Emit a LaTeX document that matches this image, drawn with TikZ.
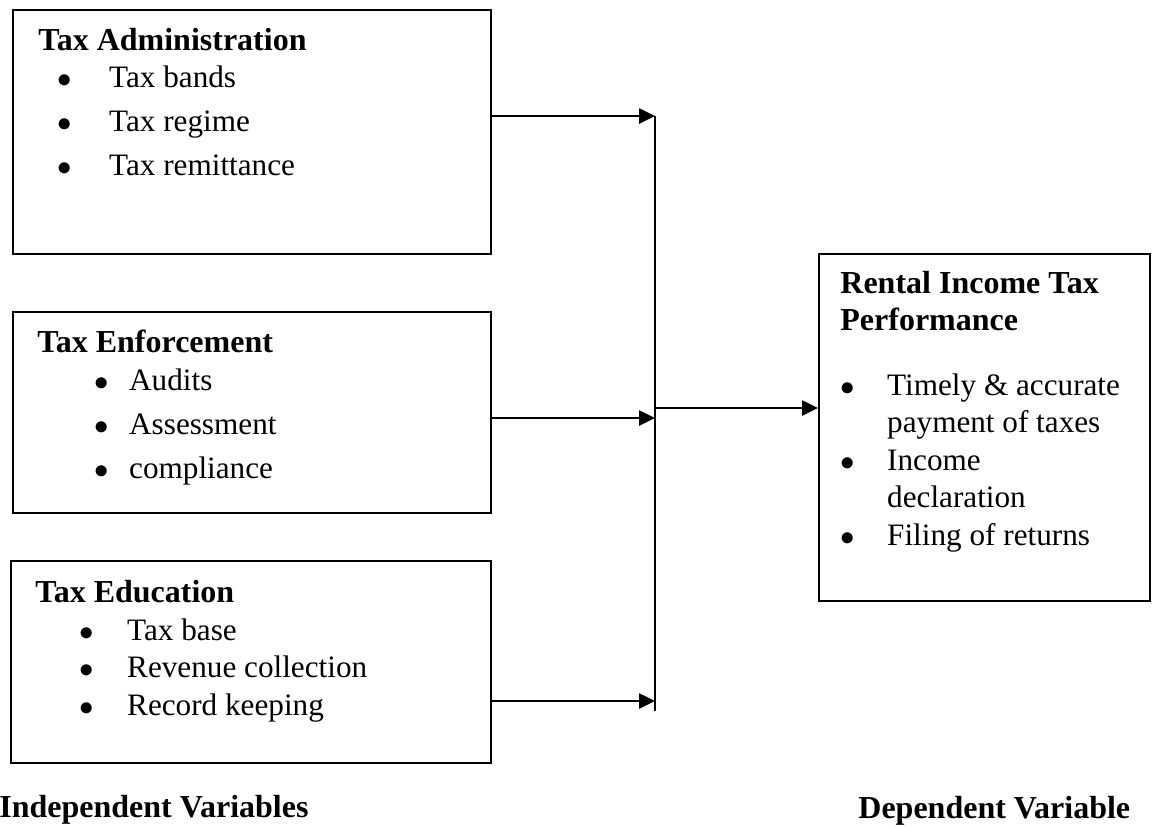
\documentclass[tikz,border=0pt]{standalone}
\usepackage{fontspec}
\setmainfont{Liberation Serif}
\usetikzlibrary{arrows.meta,fit}
\tikzset{varbox/.style={
    draw=black,
    line width=1pt,
    inner sep=0pt,
    rectangle}}
\tikzset{boxtitle/.style={
    font=\fontsize{16}{18.8}\selectfont\bfseries,
    anchor=base west,
    inner sep=0pt}}
\tikzset{boxlist/.style={
    font=\fontsize{15.6}{18.8}\selectfont,
    anchor=base west,
    inner sep=0pt}}
\tikzset{flow/.style={
    draw=black,
    line width=1.3pt,
    -{Triangle[length=8pt,width=7.5pt]}}}
\tikzset{busline/.style={
    draw=black,
    line width=1pt}}
\newcommand{\itemlist}[2]{\begin{tabular}[t]{@{}l@{\hspace{#1}}l@{}}#2\end{tabular}}
\newcommand{\bul}{$\bullet$}

\begin{document}
\begin{tikzpicture}[x=0.5pt,y=-0.5pt]
\useasboundingbox (0,0) rectangle (1152,826);

\node[varbox,fit={(13,10) (491,254)}] (adm) {};
\node[varbox,fit={(13,312) (491,513)}] (enf) {};
\node[varbox,fit={(11,561) (491,763)}] (edu) {};
\node[varbox,fit={(819,254) (1150,601)}] (perf) {};

\node[boxtitle] (admtitle) at (38,50) {Tax Administration};
\node[boxlist] (admlist) at (57.2,87) {\itemlist{18.6pt}{\bul & Tax bands\\[3.2pt] \bul & Tax regime\\[3.2pt] \bul & Tax remittance}};

\node[boxtitle] (enftitle) at (37,352) {Tax Enforcement};
\node[boxlist] (enflist) at (94.2,390) {\itemlist{10.1pt}{\bul & Audits\\[3.2pt] \bul & Assessment\\[3.2pt] \bul & compliance}};

\node[boxtitle] (edutitle) at (35,602) {Tax Education};
\node[boxlist] (edulist) at (79.2,640) {\itemlist{16.6pt}{\bul & Tax base\\ \bul & Revenue collection\\ \bul & Record keeping}};

\node[boxtitle] (perftitle) at (840,293) {\begin{tabular}[t]{@{}l@{}}Rental Income Tax\\Performance\end{tabular}};
\node[boxlist] (perflist) at (840.2,395) {\itemlist{16.1pt}{\bul & Timely \& accurate\\ & payment of taxes\\ \bul & Income\\ & declaration\\ \bul & Filing of returns}};

% joining line
\coordinate (bustop) at (655,116);
\coordinate (enfin) at (655,418);
\coordinate (eduin) at (655,701);
\coordinate (busbot) at (655,711);
\coordinate (busout) at (655,408);
\draw[busline] (bustop) -- (busbot);

\draw[flow] (adm.east |- bustop) -- (bustop);
\draw[flow] (enf.east |- enfin) -- (enfin);
\draw[flow] (edu.east |- eduin) -- (eduin);
\draw[flow] (busout) -- (perf.west |- busout);

\node[boxtitle] (indep) at (-1,817) {Independent Variables};
\node[boxtitle] (dep) at (858,818) {Dependent Variable};
\end{tikzpicture}
\end{document}
